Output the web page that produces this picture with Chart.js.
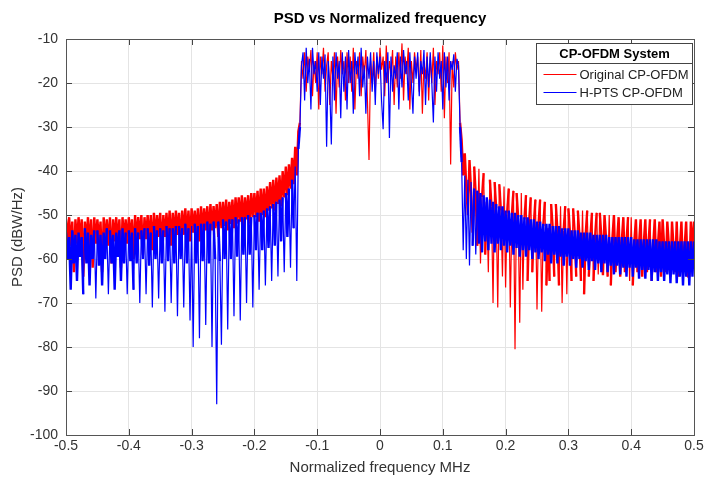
<!doctype html>
<html lang="en">
<head>
<meta charset="utf-8">
<title>PSD vs Normalized frequency</title>
<script src="https://cdn.jsdelivr.net/npm/chart.js"></script>
<style>
  html, body { margin: 0; padding: 0; background: #fff; }
</style>
</head>
<body>
<canvas id="psdChart" width="704" height="481"></canvas>
<script>
// frequency bins: -0.5 .. 0.5 in steps of 0.0025 (401 bins)
const binStep = 0.0025;
const freq = [];
for (let i = 0; i <= 400; i++) freq.push(Math.round((-0.5 + i * binStep) * 10000) / 10000);

const xTicks = [-0.5, -0.4, -0.3, -0.2, -0.1, 0, 0.1, 0.2, 0.3, 0.4, 0.5];
const xTickLabels = ['-0.5', '-0.4', '-0.3', '-0.2', '-0.1', '0', '0.1', '0.2', '0.3', '0.4', '0.5'];
const yTicks = [-100, -90, -80, -70, -60, -50, -40, -30, -20, -10];

// Original CP-OFDM (red)
const redLeft = [
  -51, -56, -50.5, -57, -51.5, -63, -51, -56.5, -50.5, -56,
  -51, -64, -51.5, -56, -50.5, -57, -51, -62, -50.5, -56.5,
  -51, -56, -51.5, -63, -50.5, -56.5, -51, -57, -50.5, -61,
  -51, -56, -50.5, -56.5, -51, -62, -50.5, -56, -51, -56.5,
  -50.5, -56, -51, -60, -50, -56, -50.5, -55.5, -50, -59,
  -50.5, -55.5, -50, -56, -50, -58, -49.5, -55.5, -50, -55,
  -49.5, -58, -50, -55, -49.5, -55.5, -49, -57, -49.5, -55,
  -49, -54.5, -49.5, -57, -49, -54.5, -48.5, -55, -49, -56,
  -48.5, -54, -49, -54.5, -48.5, -56, -48, -54, -48.5, -53.5,
  -48, -55, -47.5, -53.5, -48, -53, -47.5, -55, -47, -53,
  -47, -52.5, -46.5, -53.5, -47, -52, -46.5, -53, -46, -52,
  -46, -51.5, -45.5, -52.5, -46, -51, -45.5, -52, -45, -50.5,
  -45, -50.5, -44.5, -51.5, -44, -50, -44, -50.5, -43.5, -49,
  -42.5, -48.5, -42, -49, -41.5, -47.5, -41, -48, -40, -46,
  -39, -45.5, -38.5, -44, -37, -43, -34.5, -41, -31, -29
];
const redBand = [
  -15, -19, -13, -22, -14, -17, -12.5, -23, -15, -20,
  -13, -26, -14, -18, -12, -22, -16, -13, -25, -15,
  -19, -13, -27, -14, -21, -12.5, -18, -15, -24, -13,
  -20, -14, -22, -12, -26, -15, -19, -13, -23, -14,
  -18, -12.5, -24, -37.5, -15, -20, -13, -22, -14, -19,
  -12, -17, -14, -23, -11.5, -20, -15, -18, -12.5, -25,
  -14, -21, -13, -19, -11, -24, -14, -18, -12, -26,
  -15, -20, -13, -17, -14, -22, -12.5, -27, -15, -19,
  -13, -24, -14, -20, -12, -25, -15, -18, -13, -22,
  -11.5, -28, -14, -20, -13, -38.5, -15, -21, -13, -17,
  -15
];
const redRight = [
  -29, -33, -41, -36, -44, -50, -37.5, -44.5, -54, -39,
  -45.5, -57, -39.5, -61, -46, -40.5, -59, -47, -63, -42,
  -48, -70, -42.5, -48.5, -71, -43, -49, -64, -43.5, -66.5,
  -49.5, -44, -71, -50, -44.5, -80.5, -45, -50.5, -74.5, -45,
  -67, -51, -45.5, -65, -51.5, -46, -63, -52, -46.5, -71.5,
  -52, -46.5, -72, -52.5, -47, -66, -53, -65, -47.5, -53,
  -64, -47.5, -53.5, -66, -48, -70, -53.5, -48, -68, -48.5,
  -54, -65, -48.5, -54, -64, -49, -54.5, -65, -49, -68,
  -54.5, -49, -64, -55, -49.5, -65, -55, -49.5, -63.5, -49.5,
  -55, -63.7, -50, -55.5, -64, -50, -66, -55.5, -50, -63,
  -56, -50.5, -64, -56, -50.5, -63, -56, -50.5, -65, -50.5,
  -66, -56, -51, -63, -56.5, -51, -64, -56.5, -51, -63,
  -56.5, -51, -65, -57, -51, -63, -57, -51.5, -64, -51,
  -57, -63, -51.5, -57, -64, -51.5, -57.5, -63, -51.5, -64,
  -57.5, -51.5, -63, -57.5, -51.5, -64, -64, -51.5, -58, -51.5
];

// H-PTS CP-OFDM (blue)
const blueLeft = [
  -54, -60, -55, -67, -53.5, -61, -54.5, -65, -54, -59.5,
  -55, -68, -53, -61, -54, -66, -54.5, -60, -53.5, -69,
  -53.5, -61.5, -54.5, -66, -54, -60, -53, -68, -53.5, -61,
  -54.5, -67, -54, -59.5, -53.5, -65, -53, -61, -54, -68,
  -53.5, -60.5, -54, -67, -53, -61, -54, -70, -53.5, -60,
  -53, -68, -53, -61.5, -54, -71, -52.5, -60, -53.5, -69,
  -53, -61, -53.5, -72, -52.5, -60.5, -53, -70, -53, -61,
  -52.5, -73, -52.5, -60, -53, -71, -52, -61, -53, -74,
  -52.5, -80, -52, -61, -52.5, -78, -52, -60.5, -52, -75,
  -51.5, -61, -52, -80, -51.5, -60, -93, -51.5, -60.5, -79.5,
  -51, -60, -51.5, -76, -51, -60, -51, -73, -50.5, -59.5,
  -51, -74, -50.5, -59, -50.5, -70, -50, -59, -50.5, -71,
  -50, -58, -49.5, -67, -49.5, -58, -49, -66, -48.5, -57.5,
  -48, -65, -47.5, -57, -47, -64, -46.5, -56, -46, -63,
  -45, -55, -44, -62, -42, -53, -39, -65, -35, -30
];
const blueBand = [
  -16, -13, -24, -12, -20, -14.5, -26, -12, -18, -15,
  -22, -13, -25, -14, -19, -13.5, -34.5, -15, -21, -34,
  -14, -24, -13, -19, -15, -28, -13, -22, -14, -26,
  -12.5, -20, -15, -27, -13, -18, -14, -23, -12, -21,
  -16, -27, -14, -19, -13, -22, -15, -25, -13, -18,
  -14, -24, -30.5, -15, -20, -13, -32.5, -14, -22, -16,
  -19, -13, -26, -14, -21, -12.5, -18, -15, -24, -13,
  -20, -27, -14, -19, -13, -23, -15, -18, -12.5, -25,
  -14, -21, -13, -20, -29, -14, -22, -13, -19, -15,
  -26, -13, -21, -14, -24, -15, -17, -13.5, -22, -14.5,
  -16
];
const blueRight = [
  -30, -38, -58, -41, -60, -42, -61.5, -42.5, -57, -44,
  -59, -44.5, -56.5, -45, -58.5, -45.5, -56, -46, -58, -46.5,
  -56.5, -47, -58.5, -47.5, -56.5, -48, -58, -48, -57, -49,
  -58.5, -49, -57, -49.5, -59, -49.5, -57.5, -50, -59.5, -50,
  -58, -50.5, -59.5, -50.5, -58, -51, -60, -51, -58.5, -51.5,
  -60, -51.5, -58.5, -52, -60.5, -52, -59, -52, -61, -52.5,
  -59, -52.5, -61, -52.5, -59.5, -53, -61.5, -53, -59.5, -53,
  -61.5, -53.5, -60, -53.5, -62, -53.5, -60, -54, -62, -54,
  -60.5, -54, -62.5, -54, -60.5, -54.5, -62.5, -54.5, -61, -54.5,
  -63, -54.5, -61, -54.5, -63, -55, -61.5, -55, -63.5, -55,
  -61.5, -55, -63.5, -55, -62, -55, -64, -55, -62, -55,
  -64, -55.5, -62, -55.5, -64.5, -55.5, -62.5, -55.5, -64.5, -55.5,
  -62.5, -55.5, -65, -55.5, -63, -55.5, -65, -56, -63, -56,
  -65, -56, -63.5, -56, -65.5, -56, -63.5, -56, -65.5, -56,
  -64, -56, -66, -56, -64, -56, -66, -56, -64, -56
];

const originalPsd = redLeft.concat(redBand, redRight);
const hptsPsd = blueLeft.concat(blueBand, blueRight);

const FONT = '"Liberation Sans", Arial, Helvetica, sans-serif';
Chart.defaults.font.family = FONT;
Chart.defaults.color = '#333';

// dense sideband wiggles drawn heavier so they read as a band; deep notches stay thin
const segWidth = ctx => {
  const side = Math.abs(ctx.p0.parsed.x) > 0.124 && Math.abs(ctx.p1.parsed.x) > 0.124;
  const jump = Math.abs(ctx.p0.parsed.y - ctx.p1.parsed.y);
  return side && jump < 14 ? 2.4 : 1.2;
};

// MATLAB-style box with inward ticks, plus the titled legend box
const axesBox = {
  id: 'axesBox',
  afterDatasetsDraw(chart) {
    const {ctx, chartArea: a, scales} = chart;
    ctx.save();
    ctx.strokeStyle = '#444';
    ctx.lineWidth = 1;
    ctx.beginPath();
    xTicks.forEach(v => {
      const px = Math.round(scales.x.getPixelForValue(v)) + 0.5;
      ctx.moveTo(px, a.bottom); ctx.lineTo(px, a.bottom - 6);
      ctx.moveTo(px, a.top); ctx.lineTo(px, a.top + 6);
    });
    yTicks.forEach(v => {
      const py = Math.round(scales.y.getPixelForValue(v)) + 0.5;
      ctx.moveTo(a.left, py); ctx.lineTo(a.left + 6, py);
      ctx.moveTo(a.right, py); ctx.lineTo(a.right - 6, py);
    });
    ctx.stroke();
    ctx.strokeStyle = '#555';
    ctx.strokeRect(Math.round(a.left) + 0.5, Math.round(a.top) + 0.5,
      Math.round(a.right - a.left), Math.round(a.bottom - a.top));
    ctx.restore();
  },
  afterDraw(chart) {
    const {ctx, chartArea: a} = chart;
    const w = 156, h = 61;
    const x0 = Math.round(a.right) - 2 - w + 0.5;
    const y0 = Math.round(a.top) + 4 + 0.5;
    ctx.save();
    ctx.fillStyle = '#fff';
    ctx.fillRect(x0, y0, w, h);
    ctx.strokeStyle = '#444';
    ctx.lineWidth = 1;
    ctx.strokeRect(x0, y0, w, h);
    ctx.beginPath();
    ctx.moveTo(x0, y0 + 20); ctx.lineTo(x0 + w, y0 + 20);
    ctx.stroke();
    ctx.fillStyle = '#000';
    ctx.textBaseline = 'middle';
    ctx.textAlign = 'center';
    ctx.font = 'bold 13px ' + FONT;
    ctx.fillText('CP-OFDM System', x0 + w / 2, y0 + 10.5);
    ctx.textAlign = 'left';
    ctx.font = '13px ' + FONT;
    chart.data.datasets.forEach((ds, k) => {
      const ly = y0 + 31 + k * 18;
      ctx.strokeStyle = ds.borderColor;
      ctx.beginPath();
      ctx.moveTo(x0 + 7, ly); ctx.lineTo(x0 + 40, ly);
      ctx.stroke();
      ctx.fillStyle = '#222';
      ctx.fillText(ds.label, x0 + 43, ly + 0.5);
    });
    ctx.restore();
  }
};

new Chart(document.getElementById('psdChart'), {
  type: 'line',
  data: {
    datasets: [
      {
        label: 'Original CP-OFDM',
        data: freq.map((f, i) => ({x: f, y: originalPsd[i]})),
        borderColor: '#ff0000',
        borderWidth: 1.3,
        borderJoinStyle: 'bevel',
        segment: {borderWidth: segWidth},
        pointRadius: 0,
        tension: 0,
        order: 2
      },
      {
        label: 'H-PTS CP-OFDM',
        data: freq.map((f, i) => ({x: f, y: hptsPsd[i]})),
        borderColor: '#0000ff',
        borderWidth: 1.3,
        borderJoinStyle: 'bevel',
        segment: {borderWidth: segWidth},
        pointRadius: 0,
        tension: 0,
        order: 1
      }
    ]
  },
  plugins: [axesBox],
  options: {
    responsive: false,
    animation: false,
    events: [],
    layout: {padding: 0},
    plugins: {
      legend: {display: false},
      tooltip: {enabled: false},
      title: {
        display: true,
        text: 'PSD vs Normalized frequency',
        color: '#000',
        fullSize: false,
        font: {size: 15, weight: 'bold'},
        padding: {top: 10, bottom: 11}
      }
    },
    scales: {
      x: {
        type: 'linear',
        min: -0.5,
        max: 0.5,
        afterBuildTicks: s => { s.ticks = xTicks.map(v => ({value: v})); },
        afterFit: s => { s.height = 46; s.paddingRight = 10; },
        ticks: {
          font: {size: 14},
          color: '#333',
          padding: 3,
          maxRotation: 0,
          callback: (v, i) => xTickLabels[i]
        },
        grid: {color: '#e4e4e4', drawTicks: false},
        border: {display: false},
        title: {
          display: true,
          text: 'Normalized frequency MHz',
          font: {size: 15},
          color: '#333',
          padding: {top: 0, bottom: 4}
        }
      },
      y: {
        min: -100,
        max: -10,
        afterBuildTicks: s => { s.ticks = yTicks.map(v => ({value: v})); },
        afterFit: s => { s.width = 66; },
        ticks: {
          font: {size: 14},
          color: '#333',
          padding: 8
        },
        grid: {color: '#e4e4e4', drawTicks: false},
        border: {display: false},
        title: {
          display: true,
          text: 'PSD (dBW/Hz)',
          font: {size: 15},
          color: '#333',
          padding: {top: 9, bottom: 0}
        }
      }
    }
  }
});
</script>
</body>
</html>
